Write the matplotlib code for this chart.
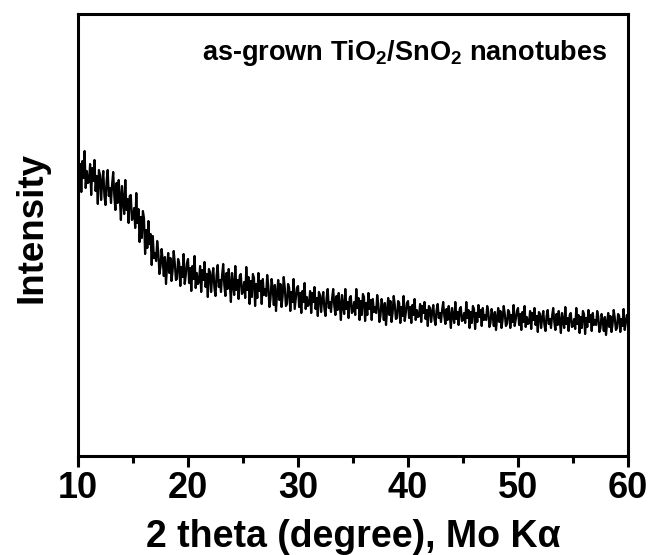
import numpy as np
import matplotlib
matplotlib.use("Agg")
import matplotlib.pyplot as plt
from matplotlib.ticker import MultipleLocator

plt.rcParams["font.family"] = ["Liberation Sans", "DejaVu Sans"]
plt.rcParams["mathtext.fontset"] = "custom"
plt.rcParams["mathtext.rm"] = "Liberation Sans:bold"
plt.rcParams["mathtext.bf"] = "Liberation Sans:bold"
plt.rcParams["mathtext.default"] = "bf"

# 2 theta from 10 to 60 deg, step 0.1 (one row per degree)
two_theta = np.round(np.arange(10.0, 60.05, 0.1), 1)

# intensity (arb. units)
intensity = [
    303, 273, 292, 264, 295, 278, 305, 268, 285, 273,
    274, 292, 261, 288, 275, 296, 265, 280, 252, 286,
    281, 256, 274, 285, 260, 251, 275, 286, 260, 268,
    253, 272, 284, 260, 246, 273, 253, 276, 259, 236,
    270, 255, 242, 276, 246, 257, 233, 260, 261, 236,
    238, 248, 228, 263, 233, 247, 214, 239, 218, 245,
    238, 202, 226, 208, 235, 212, 222, 191, 220, 198,
    203, 195, 215, 204, 182, 189, 207, 196, 180, 199,
    172, 190, 203, 183, 198, 175, 185, 205, 193, 176,
    177, 197, 193, 170, 189, 179, 202, 172, 181, 193,
    197, 173, 188, 165, 190, 177, 200, 168, 183, 172,
    174, 190, 164, 186, 176, 194, 169, 182, 159, 187,
    184, 164, 179, 188, 168, 160, 181, 191, 169, 176,
    164, 181, 192, 171, 160, 183, 167, 187, 172, 154,
    183, 171, 161, 190, 166, 176, 157, 180, 182, 162,
    164, 174, 158, 189, 166, 179, 152, 175, 159, 182,
    178, 150, 172, 158, 183, 165, 175, 152, 177, 161,
    167, 160, 181, 170, 149, 157, 177, 167, 151, 171,
    145, 163, 176, 156, 172, 149, 159, 179, 168, 150,
    152, 172, 168, 145, 164, 154, 177, 147, 157, 168,
    170, 149, 163, 143, 165, 154, 173, 147, 159, 150,
    152, 165, 143, 163, 154, 169, 147, 158, 140, 164,
    161, 144, 157, 164, 147, 140, 158, 167, 148, 154,
    144, 158, 167, 150, 141, 160, 146, 163, 151, 136,
    161, 150, 142, 167, 147, 154, 138, 158, 160, 143,
    145, 154, 141, 167, 148, 158, 136, 155, 141, 162,
    159, 135, 153, 141, 163, 147, 156, 136, 157, 144,
    149, 143, 161, 152, 134, 140, 157, 149, 136, 153,
    131, 146, 158, 141, 155, 134, 143, 160, 151, 137,
    138, 155, 153, 133, 149, 140, 160, 135, 143, 153,
    155, 138, 149, 133, 151, 141, 157, 136, 146, 139,
    140, 152, 134, 150, 143, 154, 137, 146, 130, 150,
    148, 134, 144, 151, 137, 131, 146, 152, 138, 143,
    134, 146, 154, 140, 132, 147, 136, 150, 140, 128,
    148, 140, 133, 154, 137, 144, 131, 147, 149, 135,
    136, 143, 133, 154, 138, 146, 128, 144, 133, 150,
    147, 127, 143, 134, 151, 139, 146, 130, 148, 136,
    141, 136, 150, 144, 129, 133, 147, 140, 130, 144,
    126, 138, 148, 134, 145, 128, 136, 150, 142, 130,
    132, 146, 144, 128, 141, 134, 151, 130, 137, 145,
    148, 131, 142, 126, 144, 134, 150, 129, 139, 132,
    133, 145, 127, 143, 136, 148, 131, 140, 124, 144,
    142, 128, 138, 145, 131, 125, 140, 146, 132, 137,
    128, 140, 148, 134, 126, 142, 131, 145, 135, 123,
    143, 135, 128, 149, 132, 138, 125, 141, 143, 129,
    130, 137, 127, 148, 132, 141, 123, 139, 128, 145,
    142, 122, 138, 129, 146, 134, 141, 125, 143, 131,
    136, 131, 145, 139, 124, 128, 142, 135, 125, 139,
    121, 133, 143, 129, 140, 124, 132, 146, 138, 126,
    128, 142, 140, 124, 137, 130, 147, 126, 133, 141,
    136,
]

label_text = "as-grown TiO$_2$/SnO$_2$ nanotubes"

fig = plt.figure(figsize=(6.52, 5.55), dpi=100)
ax = fig.add_axes([78 / 652, 99 / 555, 550 / 652, 442 / 555])

ax.plot(two_theta, intensity, color="black", lw=1.6)

ax.set_xlim(10, 60)
ax.set_ylim(0, 442)
ax.xaxis.set_major_locator(MultipleLocator(10))
ax.xaxis.set_minor_locator(MultipleLocator(5))
ax.set_yticks([])

for s in ax.spines.values():
    s.set_linewidth(2.2)
ax.tick_params(axis="x", which="major", direction="out", length=8, width=2.2,
               labelsize=26, pad=3)
ax.tick_params(axis="x", which="minor", direction="out", length=5, width=2.2)
for t in ax.get_xticklabels():
    t.set_fontweight("bold")

ax.set_xlabel("2 theta (degree), Mo K\u03b1", fontsize=27, fontweight="bold",
              va="baseline")
ax.xaxis.set_label_coords(0.5, -0.206)
ax.set_ylabel("Intensity", fontsize=26.5, fontweight="bold", va="baseline")
ax.yaxis.set_label_coords(-0.067, 0.516)

ax.text(0.962, 0.896, label_text, transform=ax.transAxes, ha="right",
        va="baseline", fontsize=19.5, fontweight="bold")

fig.savefig("out.png", dpi=100)
